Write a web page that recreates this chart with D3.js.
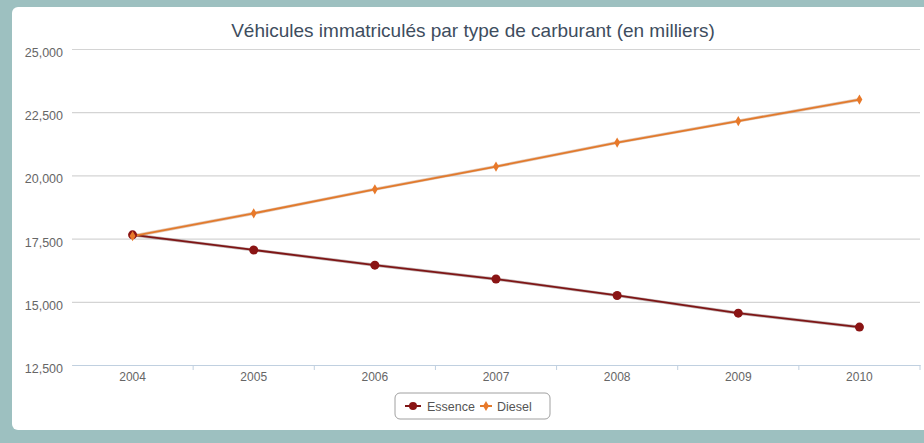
<!DOCTYPE html>
<html>
<head>
<meta charset="utf-8">
<script src="https://cdn.jsdelivr.net/npm/d3@7"></script>
<style>
  body { margin: 0; background: #9dc0c0; }
  svg { display: block; font-family: "Liberation Sans", Arial, sans-serif; }
</style>
</head>
<body>
<svg width="924" height="443"></svg>
<script>
/*****************************************
*   Data
*****************************************/
var years = ['2004', '2005', '2006', '2007', '2008', '2009', '2010'];
var essence = [17650, 17050, 16450, 15900, 15250, 14550, 14000];
var diesel = [17600, 18500, 19450, 20350, 21300, 22150, 23000];
var yTicks = [12500, 15000, 17500, 20000, 22500, 25000];

//  SVG Placement
const SVG_WIDTH = 924;
const SVG_HEIGHT = 443;
const LEFT = 72;
const RIGHT = 920;
const TOP = 49;
const BOTTOM = 365;

var svg = d3.select('svg');

// white panel
svg.append('rect')
    .attr('x', 12).attr('y', 7)
    .attr('width', 930).attr('height', 423)
    .attr('rx', 6)
    .attr('fill', '#ffffff');

var xScale = d3.scaleBand()
    .domain(years)
    .range([LEFT, RIGHT]);

var yScale = d3.scaleLinear()
    .domain([12500, 25000])
    .range([BOTTOM, TOP]);

var xc = d => xScale(d) + xScale.bandwidth() / 2;

// title
svg.append('text')
    .attr('x', 473).attr('y', 37)
    .attr('text-anchor', 'middle')
    .attr('font-size', 19)
    .attr('fill', '#3e4d5e')
    .text('Véhicules immatriculés par type de carburant (en milliers)');

/*****************************************
*   Axes
*****************************************/
var yAxis = d3.axisLeft(yScale)
    .tickValues(yTicks)
    .tickSize(-(RIGHT - LEFT))
    .tickPadding(9)
    .tickFormat(d3.format(','));

svg.append('g')
    .attr('transform', 'translate(' + LEFT + ',0)')
    .call(yAxis)
    .call(g => g.select('.domain').remove())
    .call(g => g.selectAll('line').attr('stroke', '#d4d4d4').attr('stroke-width', 1.2))
    .call(g => g.selectAll('text').attr('fill', '#666').attr('font-size', 12.5).attr('dy', '0.6em'));

var xAxis = d3.axisBottom(xScale)
    .tickSize(0)
    .tickPadding(7);

svg.append('g')
    .attr('transform', 'translate(0,' + BOTTOM + ')')
    .call(xAxis)
    .call(g => g.select('.domain').attr('stroke', '#c0d0e0').attr('stroke-width', 1.2))
    .call(g => g.selectAll('text').attr('fill', '#666').attr('font-size', 12));

// ticks between categories
svg.append('g')
    .selectAll('line')
    .data(years.slice(1).concat(['end']))
    .enter()
      .append('line')
      .attr('x1', d => d == 'end' ? RIGHT : xScale(d))
      .attr('x2', d => d == 'end' ? RIGHT : xScale(d))
      .attr('y1', BOTTOM)
      .attr('y2', BOTTOM + 5)
      .attr('stroke', '#c0d0e0');

/*****************************************
*   Lines and markers
*****************************************/
var line = d3.line()
    .x((d, i) => xc(years[i]))
    .y(d => yScale(d));

var series = [
    {name: 'Essence', values: essence, color: '#7e1515', shadow: '#3a0a0a'},
    {name: 'Diesel', values: diesel, color: '#e27a2c', shadow: '#a04a10'}
];

series.forEach(function(s) {
    svg.append('path')
        .datum(s.values)
        .attr('d', line)
        .attr('fill', 'none')
        .attr('stroke', s.shadow)
        .attr('stroke-opacity', 0.3)
        .attr('stroke-width', 3.2);
    svg.append('path')
        .datum(s.values)
        .attr('d', line)
        .attr('fill', 'none')
        .attr('stroke', s.color)
        .attr('stroke-width', 1.8);
});

svg.append('g')
    .selectAll('circle')
    .data(essence)
    .enter()
      .append('circle')
      .attr('cx', (d, i) => xc(years[i]))
      .attr('cy', d => yScale(d))
      .attr('r', 4.5)
      .attr('fill', '#8a1414');

svg.append('g')
    .selectAll('path')
    .data(diesel)
    .enter()
      .append('path')
      .attr('d', d3.symbol().type(d3.symbolDiamond).size(30))
      .attr('transform', (d, i) => 'translate(' + xc(years[i]) + ',' + yScale(d) + ')')
      .attr('fill', '#e8792a');

/*****************************************
*   Legend
*****************************************/
var legend = svg.append('g').attr('transform', 'translate(395,393)');
legend.append('rect')
    .attr('width', 155).attr('height', 26)
    .attr('rx', 5)
    .attr('fill', '#fff')
    .attr('stroke', '#a0a0a0');

legend.append('line')
    .attr('x1', 10).attr('x2', 26).attr('y1', 13).attr('y2', 13)
    .attr('stroke', '#7e1515').attr('stroke-width', 2);
legend.append('circle')
    .attr('cx', 18).attr('cy', 13).attr('r', 4)
    .attr('fill', '#8a1414');
legend.append('text')
    .attr('x', 32).attr('y', 17.5)
    .attr('font-size', 12.5).attr('fill', '#555')
    .text('Essence');

legend.append('line')
    .attr('x1', 85).attr('x2', 97).attr('y1', 13).attr('y2', 13)
    .attr('stroke', '#e27a2c').attr('stroke-width', 2);
legend.append('path')
    .attr('d', d3.symbol().type(d3.symbolDiamond).size(30))
    .attr('transform', 'translate(91,13)')
    .attr('fill', '#e8792a');
legend.append('text')
    .attr('x', 102).attr('y', 17.5)
    .attr('font-size', 12.5).attr('fill', '#555')
    .text('Diesel');
</script>
</body>
</html>
